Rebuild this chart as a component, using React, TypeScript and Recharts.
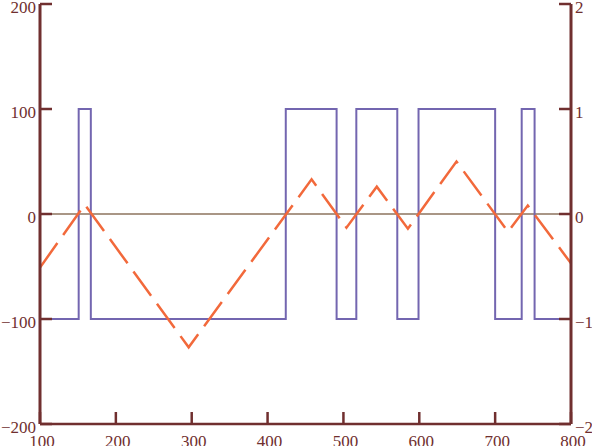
import React from 'react';
import { LineChart, Line, XAxis, YAxis, ReferenceLine } from 'recharts';

// sweep axis ticks
const timeTicks = [100, 200, 300, 400, 500, 600, 700, 800];
const leftTicks = [-200, -100, 0, 100, 200];
const rightTicks = [-2, -1, 0, 1, 2];

// square wave (right axis): switching times and levels
const squareTimes = [100, 151, 167, 424, 491, 517, 571, 599, 700, 735, 752, 800];
const squareLevels = [-1, 1, -1, 1, -1, 1, -1, 1, -1, 1, -1, -1];

// triangle (left axis): corner times and values
const triangleTimes = [100, 159, 296, 458, 504, 544, 585, 649, 717, 743, 800];
const triangleValues = [-51, 9, -127, 33, -13, 26, -14, 50, -17, 8, -47];

const squareData = squareTimes.map((t, i) => ({ t, v: squareLevels[i] }));
const triangleData = triangleTimes.map((t, i) => ({ t, v: triangleValues[i] }));

const AXIS = '#702f2f';
const FONT = '"Liberation Serif", "Times New Roman", serif';

const fmt = (v: number) => (v < 0 ? '\u2212' + Math.abs(v) : String(v));

const BottomTick = (props: any) => {
  const { x, y, payload } = props;
  return (
    <g>
      <line x1={x} y1={y} x2={x} y2={y - 12} stroke={AXIS} strokeWidth={2.5} />
      <text x={x + 2} y={y + 23} textAnchor="middle" fill={AXIS} fontSize={17} fontFamily={FONT}>
        {fmt(payload.value)}
      </text>
    </g>
  );
};

const TopTick = (props: any) => {
  const { x, y } = props;
  return <line x1={x} y1={y} x2={x} y2={y + 12} stroke={AXIS} strokeWidth={2.5} />;
};

const LeftTick = (props: any) => {
  const { x, y, payload } = props;
  return (
    <g>
      <line x1={x} y1={y} x2={x + 12} y2={y} stroke={AXIS} strokeWidth={2.5} />
      <text x={x - 4} y={y + 9} textAnchor="end" fill={AXIS} fontSize={17} fontFamily={FONT}>
        {fmt(payload.value)}
      </text>
    </g>
  );
};

const RightTick = (props: any) => {
  const { x, y, payload } = props;
  return (
    <g>
      <line x1={x} y1={y} x2={x - 12} y2={y} stroke={AXIS} strokeWidth={2.5} />
      <text x={x + 4} y={y + 9} textAnchor="start" fill={AXIS} fontSize={17} fontFamily={FONT}>
        {fmt(payload.value)}
      </text>
    </g>
  );
};

export default function App() {
  return (
    <div style={{ position: 'absolute', left: 0, top: 0 }}>
      <LineChart width={592} height={446} margin={{ top: 4, right: 0, bottom: 0, left: 0 }}>
        <XAxis
          xAxisId="bottom"
          dataKey="t"
          type="number"
          domain={[100, 800]}
          ticks={timeTicks}
          interval={0}
          height={22}
          tickSize={0}
          tickMargin={0}
          tickLine={false}
          tick={<BottomTick />}
          axisLine={{ stroke: AXIS, strokeWidth: 2.5 }}
          allowDataOverflow
        />
        <XAxis
          xAxisId="top"
          orientation="top"
          dataKey="t"
          type="number"
          domain={[100, 800]}
          ticks={timeTicks}
          interval={0}
          height={0}
          tickSize={0}
          tickMargin={0}
          tickLine={false}
          tick={<TopTick />}
          axisLine={{ stroke: AXIS, strokeWidth: 2.5 }}
          allowDataOverflow
        />
        <YAxis
          yAxisId="left"
          type="number"
          domain={[-200, 200]}
          ticks={leftTicks}
          interval={0}
          width={40}
          tickSize={0}
          tickMargin={0}
          tickLine={false}
          tick={<LeftTick />}
          axisLine={{ stroke: AXIS, strokeWidth: 3 }}
          allowDataOverflow
        />
        <YAxis
          yAxisId="right"
          orientation="right"
          type="number"
          domain={[-2, 2]}
          ticks={rightTicks}
          interval={0}
          width={21}
          tickSize={0}
          tickMargin={0}
          tickLine={false}
          tick={<RightTick />}
          axisLine={{ stroke: AXIS, strokeWidth: 3 }}
          allowDataOverflow
        />
        <ReferenceLine xAxisId="bottom" yAxisId="left" y={0} stroke="#a99686" strokeWidth={2} />
        <Line
          xAxisId="bottom"
          yAxisId="right"
          data={squareData}
          dataKey="v"
          type="stepAfter"
          stroke="#7366b0"
          strokeWidth={2}
          dot={false}
          isAnimationActive={false}
        />
        <Line
          xAxisId="bottom"
          yAxisId="left"
          data={triangleData}
          dataKey="v"
          type="linear"
          stroke="#f2693b"
          strokeWidth={2.5}
          strokeDasharray="30 10"
          dot={false}
          isAnimationActive={false}
        />
      </LineChart>
    </div>
  );
}
